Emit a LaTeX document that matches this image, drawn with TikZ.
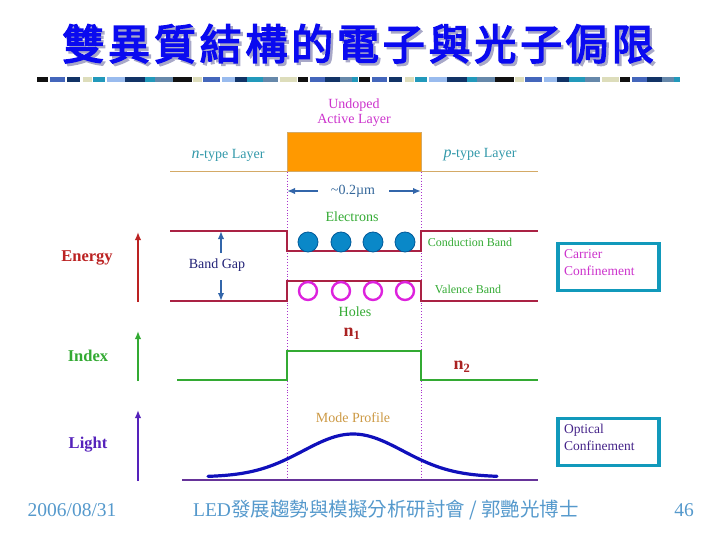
\documentclass[tikz,border=0pt]{standalone}
\usepackage{fontspec}
\setmainfont{Liberation Serif}
\newfontfamily\cjktitle{Noto Sans CJK TC}[LetterSpace=9,FakeBold=3.5]
\newfontfamily\cjk{Noto Sans CJK TC}
\usetikzlibrary{arrows.meta}
\definecolor{titleblue}{HTML}{0A0AF0}
\definecolor{shadowc}{HTML}{A8A8C8}
\definecolor{tanc}{HTML}{D4AA66}
\definecolor{orangec}{HTML}{FF9900}
\definecolor{dotc}{HTML}{AA33CC}
\definecolor{bandred}{HTML}{AA2244}
\definecolor{elfill}{HTML}{0A88C8}
\definecolor{eledge}{HTML}{005A9A}
\definecolor{holec}{HTML}{DD22DD}
\definecolor{greenc}{HTML}{33AA33}
\definecolor{steelc}{HTML}{3366AA}
\definecolor{tealtext}{HTML}{3399AA}
\definecolor{umtext}{HTML}{336699}
\definecolor{gaptext}{HTML}{222277}
\definecolor{nred}{HTML}{AA2222}
\definecolor{modec}{HTML}{CC9944}
\definecolor{curvec}{HTML}{1010BB}
\definecolor{purplec}{HTML}{663399}
\definecolor{lightc}{HTML}{5522BB}
\definecolor{boxc}{HTML}{1199BB}
\definecolor{carrierc}{HTML}{CC33CC}
\definecolor{opticc}{HTML}{442288}
\definecolor{footc}{HTML}{5599CC}
\definecolor{energyc}{HTML}{BB2222}
\definecolor{bk}{HTML}{111111}
\definecolor{bblue}{HTML}{4466BB}
\definecolor{bnavy}{HTML}{113366}
\definecolor{bbeige}{HTML}{DDDDBB}
\definecolor{bteal}{HTML}{2299BB}
\definecolor{blight}{HTML}{99BBEE}
\definecolor{bgray}{HTML}{6688AA}
\newcommand{\titletext}{雙異質結構的電子與光子侷限}
\tikzset{
  lbl/.style={inner sep=0pt, font=\fontsize{14}{15}\selectfont},
  small/.style={inner sep=0pt, font=\fontsize{12}{13}\selectfont},
  axlbl/.style={inner sep=0pt, font=\fontsize{16.5}{18}\selectfont\bfseries},
  nlbl/.style={inner sep=0pt, text=nred, font=\fontsize{18}{20}\selectfont\bfseries},
  tip/.style={-{Latex[length=8pt,width=6.5pt]}},
  axarrow/.style={tip, line width=2.2pt},
  band/.style={draw=bandred, line width=1.1pt},
  idx/.style={draw=greenc, line width=1.3pt},
  divider/.style={draw=dotc, dotted, line width=0.9pt},
  electron/.style={circle, draw=eledge, fill=elfill, line width=0.8pt, minimum size=20pt, inner sep=0pt},
  hole/.style={circle, draw=holec, line width=2.4pt, minimum size=18pt, inner sep=0pt},
  confbox/.style={draw=boxc, line width=3.5pt, minimum width=101pt, minimum height=47pt, inner sep=0pt},
  foot/.style={inner sep=0pt, text=footc, font=\fontsize{19.5}{22}\selectfont}
}
\begin{document}
\begin{tikzpicture}[x=1pt,y=-1pt]
\useasboundingbox (0,0) rectangle (720,540);
% title with shadow
\node[inner sep=0pt, font=\fontsize{42}{46}\selectfont\cjktitle] (title) at (358,45)
  {\makebox[0pt][l]{\hspace{2.5pt}\raisebox{-2.5pt}{\color{shadowc}\titletext}}\color{titleblue}\titletext};
% decorative bar
\foreach \r in {0,322}{
  \foreach \a/\b/\c in {0/11/bk,13/28/bblue,30/43/bnavy,46/55/bbeige,56/68/bteal,70/88/blight,88/108/bnavy,108/118/bteal,118/136/bgray,136/155/bk,156/165/bbeige,166/183/bblue,185/198/blight,198/210/bnavy,210/226/bteal,226/241/bgray,243/260/bbeige,261/271/bk,273/288/bblue,288/303/bnavy,303/315/bgray,315/321/bteal}{
    \fill[\c] (37+\r+\a,77.5) rectangle (37+\r+\b,82.5);
  }
}
% layers
\node[lbl, text=carrierc, align=center, font=\fontsize{14}{15}\selectfont] (undoped) at (354,112.5) {Undoped\\Active Layer};
\node[draw=tanc, fill=orangec, line width=0.6pt, minimum width=134pt, minimum height=39pt, inner sep=0pt] (active) at (354,151.5) {};
\node[lbl, text=tealtext] (ntype) at (228,155) {{\fontsize{16}{16}\selectfont\itshape n}\textbf{-}type Layer};
\node[lbl, text=tealtext] (ptype) at (480,155) {{\fontsize{16}{16}\selectfont\itshape p}\textbf{-}type Layer};
\coordinate (tl) at (170,172);
\coordinate (tr) at (538,172);
\draw[draw=tanc, line width=1pt] (tl) -- (tr);
% dotted dividers
\coordinate (dlt) at (287,172); \coordinate (dlb) at (287,479);
\coordinate (drt) at (421,172); \coordinate (drb) at (421,479);
\draw[divider] (dlt) -- (dlb);
\draw[divider] (drt) -- (drb);
% thickness
\node[lbl, text=umtext] (um) at (353,191) {\textasciitilde0.2µm};
\coordinate (uml) at (287,191); \coordinate (umr) at (421,191);
\coordinate (umla) at (318,191); \coordinate (umra) at (389,191);
\draw[tip, draw=steelc, fill=steelc, line width=1.8pt] (umla) -- (uml);
\draw[tip, draw=steelc, fill=steelc, line width=1.8pt] (umra) -- (umr);
\node[lbl, text=greenc] (electrons) at (352,217) {Electrons};
% bands
\draw[band] (170,231) -- (287,231) -- (287,251) -- (421,251) -- (421,231) -- (538,231);
\draw[band] (170,301) -- (287,301) -- (287,281) -- (421,281) -- (421,301) -- (538,301);
\foreach \i/\x in {1/308,2/341,3/373,4/405}{
  \node[electron] (e\i) at (\x,242) {};
  \node[hole] (h\i) at (\x,291) {};
}
\node[small, text=greenc] (cb) at (470,242) {Conduction Band};
\node[small, text=greenc] (vb) at (468,289) {Valence Band};
\node[lbl, text=gaptext] (gap) at (217,265) {Band Gap};
\coordinate (gupa) at (221,253); \coordinate (gupb) at (221,231);
\coordinate (gdna) at (221,280); \coordinate (gdnb) at (221,301);
\draw[tip, draw=steelc, fill=steelc, line width=1.6pt] (gupa) -- (gupb);
\draw[tip, draw=steelc, fill=steelc, line width=1.6pt] (gdna) -- (gdnb);
\node[lbl, text=greenc] (holes) at (355,312) {Holes};
% index
\node[nlbl] (n1) at (352,334) {n\textsubscript{1}};
\node[nlbl] (n2) at (462,367) {n\textsubscript{2}};
\draw[idx] (177,380) -- (287,380) -- (287,351) -- (421,351) -- (421,380) -- (538,380);
% light
\node[lbl, text=modec] (mode) at (353,418) {Mode Profile};
\draw[draw=purplec, line width=1.1pt] (182,480) -- (538,480);
\draw[draw=curvec, line width=3.2pt, line cap=round] plot[domain=208:497, samples=90, smooth] (\x,{477-43*exp(-0.5*((\x-353)/50)^2)});
% axes
\coordinate (ea) at (138,302); \coordinate (eb) at (138,232);
\coordinate (ia) at (138,381); \coordinate (ib) at (138,331);
\coordinate (la) at (138,481); \coordinate (lb) at (138,410);
\draw[axarrow, draw=energyc, fill=energyc] (ea) -- (eb);
\draw[axarrow, draw=greenc, fill=greenc] (ia) -- (ib);
\draw[axarrow, draw=lightc, fill=lightc] (la) -- (lb);
\node[axlbl, text=energyc] (energy) at (87,258) {Energy};
\node[axlbl, text=greenc] (index) at (88,356) {Index};
\node[axlbl, text=lightc] (light) at (88,445) {Light};
% confinement boxes
\node[confbox] (cbox) at (608.5,267) {};
\node[small, text=carrierc, align=left, anchor=west, font=\fontsize{13.5}{17}\selectfont] (ctext) at (564,262.5) {Carrier\\Confinement};
\node[confbox] (obox) at (608.5,442) {};
\node[small, text=opticc, align=left, anchor=west, font=\fontsize{13.5}{17}\selectfont] (otext) at (564,437.5) {Optical\\Confinement};
% footer
\node[foot] (date) at (72,510) {2006/08/31};
\node[foot] (conf) at (386,510) {LED{\cjk 發展趨勢與模擬分析研討會 / 郭艷光博士}};
\node[foot] (page) at (684,510) {46};
\end{tikzpicture}
\end{document}
